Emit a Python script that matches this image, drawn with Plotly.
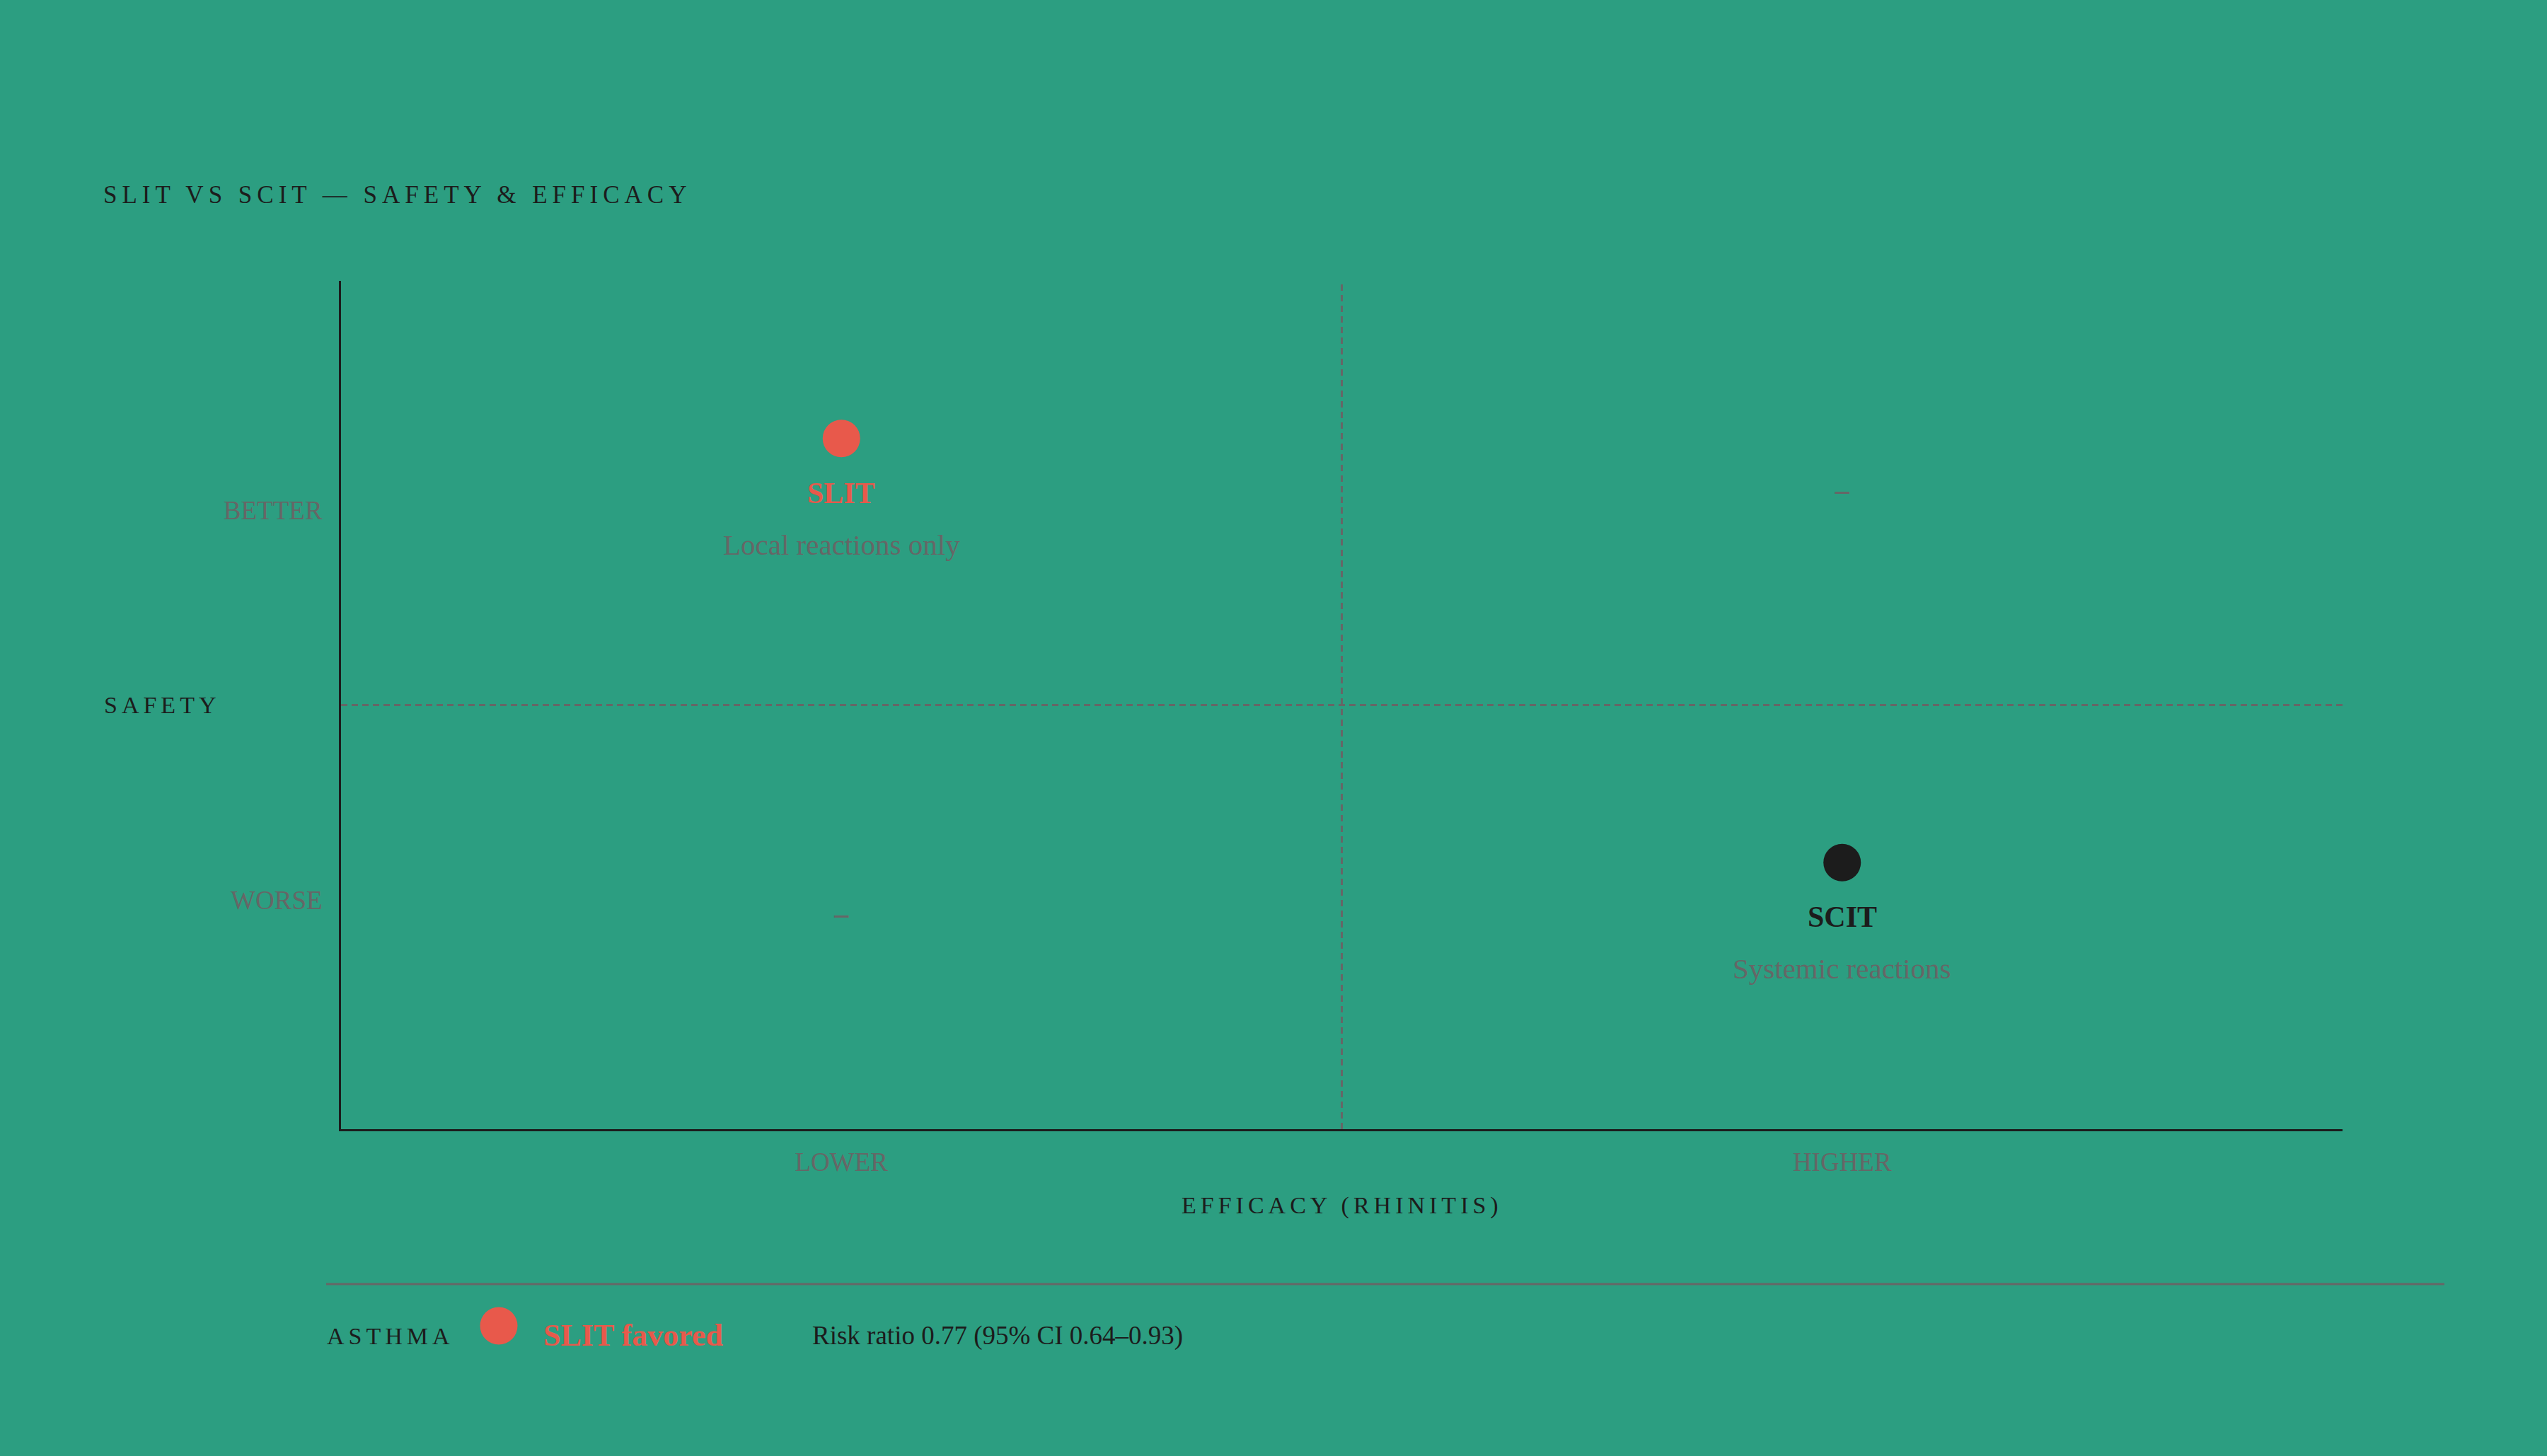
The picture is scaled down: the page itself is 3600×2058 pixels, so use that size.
import plotly.graph_objects as go

# ---------------- data ----------------
treatments = ["SLIT", "SCIT"]
notes = ["Local reactions only", "Systemic reactions"]
efficacy = [0.25, 0.75]          # lower / higher
safety = [0.75, 0.25]            # better / worse
empty_x = [0.75, 0.25]           # empty quadrants
empty_y = [0.75, 0.25]

x_tickvals = [0.25, 0.75]
x_ticktext = ["LOWER", "HIGHER"]
y_tickvals = [0.27, 0.73]
y_ticktext = ["WORSE", "BETTER"]

asthma_label = "ASTHMA"
asthma_favored = "SLIT favored"
asthma_rr = 0.77
asthma_ci = [0.64, 0.93]

title_text = "SLIT VS SCIT — SAFETY & EFFICACY"
x_title = "EFFICACY (RHINITIS)"
y_title = "SAFETY"

# ---------------- style ----------------
W, H = 3600, 2058
ML, MR, MT, MB = 482, 289, 397, 462
PW, PH = W - ML - MR, H - MT - MB
BG = "#2C9E81"
RED = "#E8594B"
DARK = "#1C1C1C"
GRAY = "#666666"
FONT = "Liberation Serif"
point_colors = [RED, DARK]
DOT = 53
DOT_OFFSET_PX = 77


def spaced(t, px):
    return f'<span style="letter-spacing:{px}px">{t}</span>'


def px_x(px):
    return (px - ML) / PW


def px_y(py):
    return (H - MB - py) / PH


fig = go.Figure()

# points (dot drawn above the label)
fig.add_trace(go.Scatter(
    x=efficacy,
    y=[s + DOT_OFFSET_PX / PH for s in safety],
    mode="markers",
    marker=dict(size=DOT, color=point_colors, line=dict(width=0)),
    cliponaxis=False, hoverinfo="skip", showlegend=False,
))

# empty quadrant placeholders
fig.add_trace(go.Scatter(
    x=empty_x, y=empty_y, mode="text", text=["—"] * len(empty_x),
    textposition="middle center",
    textfont=dict(family="DejaVu Sans", size=23, color=GRAY, weight="bold"),
    hoverinfo="skip", showlegend=False,
))

annotations = []
for t, n, xv, yv, c in zip(treatments, notes, efficacy, safety, point_colors):
    annotations.append(dict(x=xv, y=yv, xref="x", yref="y", text=f"<b>{t}</b>",
                            showarrow=False, xanchor="center", yanchor="middle",
                            font=dict(family=FONT, size=42, color=c)))
    annotations.append(dict(x=xv, y=yv, xref="x", yref="y", text=n,
                            showarrow=False, xanchor="center", yanchor="middle",
                            yshift=-73,
                            font=dict(family=FONT, size=41, color=GRAY)))

# axis titles
annotations.append(dict(x=px_x(145), y=0.5, xref="paper", yref="paper",
                        text=spaced(y_title, 6), showarrow=False,
                        xanchor="left", yanchor="middle",
                        font=dict(family=FONT, size=34, color=DARK)))
annotations.append(dict(x=0.5, y=px_y(1704), xref="paper", yref="paper",
                        text=spaced(x_title, 6), showarrow=False,
                        xanchor="center", yanchor="middle",
                        font=dict(family=FONT, size=34, color=DARK)))

# asthma row
annotations.append(dict(x=px_x(460), y=px_y(1888), xref="paper", yref="paper",
                        text=spaced(asthma_label, 6), showarrow=False,
                        xanchor="left", yanchor="middle",
                        font=dict(family=FONT, size=34, color=DARK)))
annotations.append(dict(x=px_x(766), y=px_y(1887), xref="paper", yref="paper",
                        text=f"<b>{asthma_favored}</b>", showarrow=False,
                        xanchor="left", yanchor="middle",
                        font=dict(family=FONT, size=44, color=RED)))
annotations.append(dict(x=px_x(1146), y=px_y(1888), xref="paper", yref="paper",
                        text=f"Risk ratio {asthma_rr:.2f} (95% CI {asthma_ci[0]:.2f}–{asthma_ci[1]:.2f})",
                        showarrow=False, xanchor="left", yanchor="middle",
                        font=dict(family=FONT, size=37, color=DARK)))

shapes = [
    # quadrant dividers
    dict(type="line", xref="x", yref="y", x0=0.5, x1=0.5, y0=0, y1=1,
         line=dict(color=GRAY, width=3, dash="9px,6px")),
    dict(type="line", xref="x", yref="y", x0=0, x1=1, y0=0.5, y1=0.5,
         line=dict(color=GRAY, width=3, dash="9px,6px")),
    # separator above asthma row
    dict(type="line", xref="paper", yref="paper", x0=px_x(461), x1=px_x(3455),
         y0=px_y(1815), y1=px_y(1815), line=dict(color=GRAY, width=3)),
    # asthma dot
    dict(type="circle", xref="paper", yref="paper",
         xsizemode="pixel", ysizemode="pixel",
         xanchor=px_x(705), yanchor=px_y(1874),
         x0=-DOT / 2, x1=DOT / 2, y0=-DOT / 2, y1=DOT / 2,
         fillcolor=RED, line=dict(width=0)),
]

fig.update_layout(
    width=W, height=H,
    margin=dict(l=ML, r=MR, t=MT, b=MB),
    paper_bgcolor=BG, plot_bgcolor=BG,
    font=dict(family=FONT, color=DARK),
    title=dict(text=spaced(title_text, 7), x=146 / W, xanchor="left",
               xref="container", yref="container", y=1 - 275 / H, yanchor="middle",
               font=dict(family=FONT, size=35, color=DARK)),
    annotations=annotations,
    shapes=shapes,
    showlegend=False,
    xaxis=dict(range=[0, 1], showgrid=False, zeroline=False, showline=True,
               linecolor=DARK, linewidth=3, ticks="", tickvals=x_tickvals,
               ticktext=x_ticktext, ticklabelstandoff=12,
               tickfont=dict(family=FONT, size=37, color=GRAY), fixedrange=True),
    yaxis=dict(range=[0, 1], showgrid=False, zeroline=False, showline=True,
               linecolor=DARK, linewidth=3, ticks="", tickvals=y_tickvals,
               ticktext=y_ticktext, ticklabelstandoff=16,
               tickfont=dict(family=FONT, size=37, color=GRAY), fixedrange=True),
)

fig.write_html("out.html",
               config={"displayModeBar": False},
               post_script="document.body.style.margin='0';document.body.style.overflow='hidden';")
